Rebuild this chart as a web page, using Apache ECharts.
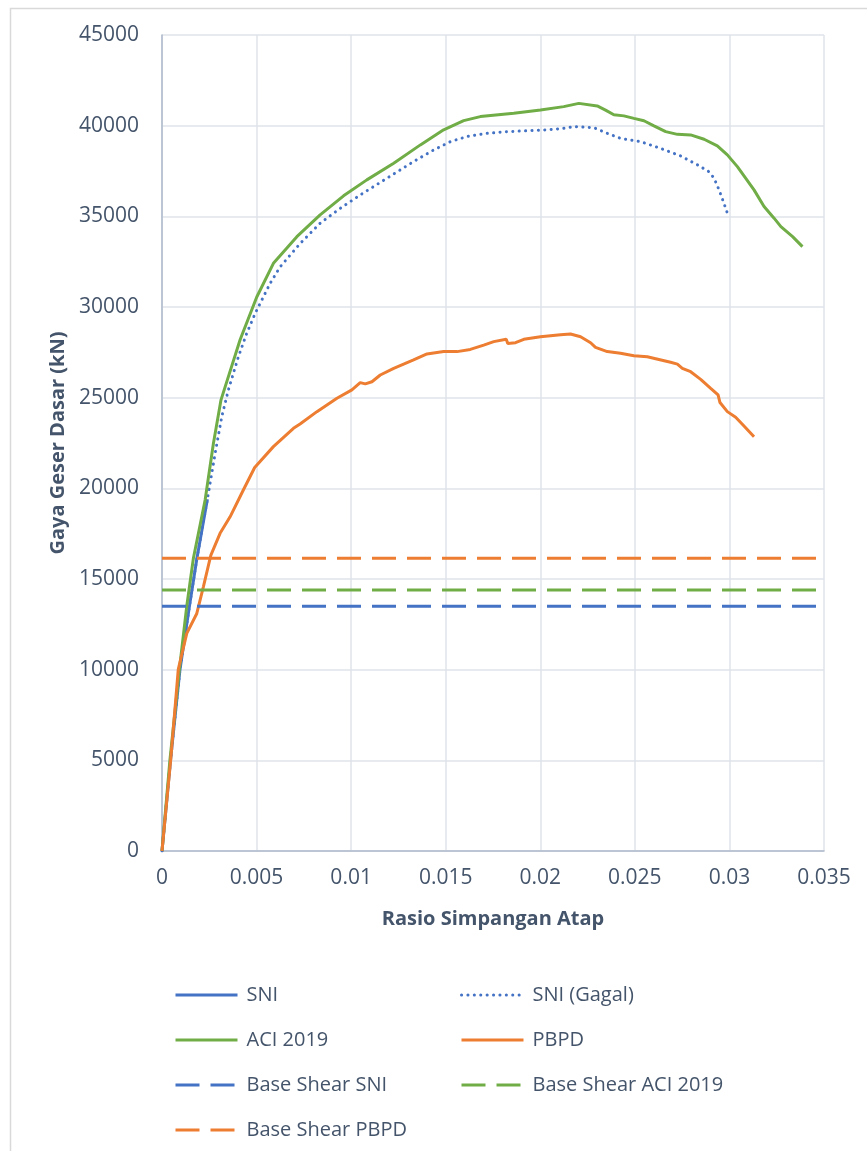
<!DOCTYPE html>
<html>
<head>
<meta charset="utf-8">
<script src="https://cdn.jsdelivr.net/npm/echarts@6/dist/echarts.min.js"></script>
<style>
html,body{margin:0;padding:0;background:#fff;}
#chart{width:867px;height:1151px;}
</style>
</head>
<body>
<div id="chart"></div>
<script>
// ---- data ----
const seriesNames = ['SNI', 'SNI (Gagal)', 'ACI 2019', 'PBPD', 'Base Shear SNI', 'Base Shear ACI 2019', 'Base Shear PBPD'];
const xTicks = { min: 0, max: 0.035, step: 0.005 };
const yTicks = { min: 0, max: 45000, step: 5000 };

const sniData = [[0,0],[0.00045,5000],[0.00095,10000],[0.00145,13500],[0.00184,16100],[0.0024,19400]];

const sniGagalData = [[0,0],[0.00045,5000],[0.00095,10000],[0.00145,13500],[0.00184,16100],[0.0024,19400],
  [0.00281,21930],[0.00316,23950],[0.00351,25430],[0.00404,27260],[0.00448,28550],[0.00495,29700],
  [0.00528,30390],[0.00572,31310],[0.00625,32220],[0.00731,33510],[0.00836,34620],[0.00942,35440],
  [0.01048,36180],[0.01189,37100],[0.0133,38020],[0.01436,38660],[0.01525,39120],[0.01613,39400],
  [0.01719,39580],[0.01825,39670],[0.0193,39720],[0.02036,39770],[0.0212,39850],[0.02177,39950],
  [0.02283,39890],[0.02354,39580],[0.02424,39300],[0.0253,39120],[0.02636,38750],[0.02742,38330],
  [0.02831,37840],[0.02892,37460],[0.02919,37100],[0.02945,36460],[0.02971,35720],[0.02995,34990]];

const aciData = [[0,0],[0.00042,5020],[0.00092,10020],[0.00131,13510],[0.00166,16140],[0.00228,19360],
  [0.00272,22490],[0.00312,24880],[0.00351,26160],[0.00413,28190],[0.00501,30550],[0.00589,32410],
  [0.00713,33880],[0.00836,35080],[0.0096,36130],[0.01083,37010],[0.01225,37930],[0.01366,38940],
  [0.01489,39770],[0.01595,40280],[0.01683,40500],[0.0186,40680],[0.02001,40860],[0.02124,41050],
  [0.02204,41230],[0.02301,41090],[0.02345,40860],[0.02389,40600],[0.02442,40540],[0.02495,40400],
  [0.02548,40270],[0.02601,39990],[0.02663,39670],[0.02725,39520],[0.02795,39490],[0.02866,39250],
  [0.02936,38890],[0.02989,38390],[0.03042,37740],[0.0313,36460],[0.03183,35540],[0.03236,34900],
  [0.03272,34430],[0.03334,33880],[0.03386,33330]];

const pbpdData = [[0,0],[0.00046,5020],[0.00086,10020],[0.00131,12000],[0.00184,13100],[0.00219,14580],
  [0.00258,16300],[0.00307,17520],[0.0036,18430],[0.0043,19910],[0.0049,21150],[0.00589,22300],
  [0.00695,23310],[0.0073,23550],[0.00819,24230],[0.00925,24970],[0.01004,25430],[0.01048,25830],
  [0.01075,25760],[0.0111,25880],[0.01154,26250],[0.01225,26620],[0.0133,27080],[0.01401,27410],
  [0.01489,27540],[0.0156,27540],[0.0163,27660],[0.01701,27900],[0.01754,28090],[0.0182,28220],
  [0.01828,27990],[0.01869,28030],[0.01913,28220],[0.02001,28360],[0.02107,28470],[0.0216,28510],
  [0.02213,28360],[0.02266,28030],[0.02292,27770],[0.02354,27540],[0.02424,27450],[0.02495,27310],
  [0.02566,27260],[0.0261,27150],[0.02619,27060],[0.02689,26950],[0.02725,26850],[0.02751,26620],
  [0.02795,26430],[0.02848,26010],[0.02901,25510],[0.0294,25150],[0.0295,24730],[0.02989,24230],
  [0.03033,23920],[0.03077,23440],[0.0313,22850]];

const baseShearSNI = 13500;
const baseShearACI = 14400;
const baseShearPBPD = 16150;

// ---- styling ----
const BLUE = '#4472C4', GREEN = '#70AD47', ORANGE = '#ED7D31';
const TXT = '#44546A';
const FONT = '"Open Sans", "Noto Sans", sans-serif';
const LW = 3;
const DASH = [24, 11];
const DOT = [0.1, 6.3];

function hLine(v) { return [[xTicks.min, v], [xTicks.max, v]]; }

function styleOf(type) {
  return type === 'dotted' ? DOT : (type === 'dashed' ? DASH : 'solid');
}

function lineSeries(name, data, color, type, z) {
  return {
    name: name, type: 'line', data: data, symbol: 'none', smooth: false,
    z: z, animation: false,
    lineStyle: { color: color, width: LW, type: styleOf(type),
      cap: type === 'dotted' ? 'round' : 'butt' },
    itemStyle: { color: color }
  };
}

function legendItem(name, color, type) {
  return { name: name,
    itemStyle: { opacity: 0, color: 'rgba(0,0,0,0)', borderWidth: 0 },
    lineStyle: { color: color, width: LW, type: styleOf(type), cap: type === 'dotted' ? 'round' : 'butt' } };
}

const chart = echarts.init(document.getElementById('chart'), null, { renderer: 'canvas' });

const legendCommon = {
  orient: 'vertical', itemWidth: 62, itemHeight: 20, itemGap: 25,
  textStyle: { color: TXT, fontSize: 20, fontFamily: FONT, lineHeight: 20, padding: [0, 0, 0, 4] },
  itemStyle: { opacity: 0 },
  selectedMode: false
};

chart.setOption({
  backgroundColor: '#fff',
  animation: false,
  graphic: [{
    type: 'rect', left: 8, top: 6, shape: { width: 900, height: 1200 },
    style: { fill: 'none', stroke: '#D9D9D9', lineWidth: 1.5 }, silent: true, z: -10
  }],
  grid: { left: 162, right: 43, top: 35, bottom: 300 },
  xAxis: {
    type: 'value', min: xTicks.min, max: xTicks.max, interval: xTicks.step,
    name: 'Rasio Simpangan Atap', nameLocation: 'middle', nameGap: 58,
    nameTextStyle: { color: TXT, fontSize: 20, fontWeight: 'bold', fontFamily: FONT },
    axisLine: { show: true, lineStyle: { color: '#ADB9CA', width: 1.5 } },
    axisTick: { show: false },
    axisLabel: { color: TXT, fontSize: 21, fontFamily: FONT, margin: 17,
      formatter: function (v) { return String(parseFloat(v.toFixed(4))); } },
    splitLine: { show: true, lineStyle: { color: '#DFE3EA', width: 1.5 } }
  },
  yAxis: {
    type: 'value', min: yTicks.min, max: yTicks.max, interval: yTicks.step,
    name: 'Gaya Geser Dasar (kN)', nameLocation: 'middle', nameGap: 93,
    nameTextStyle: { color: TXT, fontSize: 20, fontWeight: 'bold', fontFamily: FONT },
    axisLine: { show: true, lineStyle: { color: '#ADB9CA', width: 1.5 } },
    axisTick: { show: false },
    axisLabel: { color: TXT, fontSize: 21, fontFamily: FONT, margin: 23,
      formatter: function (v) { return String(v); } },
    splitLine: { show: true, lineStyle: { color: '#DFE3EA', width: 1.5 } }
  },
  legend: [
    Object.assign({}, legendCommon, { left: 169, top: 980,
      data: [legendItem(seriesNames[0], BLUE, 'solid'), legendItem(seriesNames[2], GREEN, 'solid'),
             legendItem(seriesNames[4], BLUE, 'dashed'), legendItem(seriesNames[6], ORANGE, 'dashed')] }),
    Object.assign({}, legendCommon, { left: 455, top: 980,
      data: [legendItem(seriesNames[1], BLUE, 'dotted'), legendItem(seriesNames[3], ORANGE, 'solid'),
             legendItem(seriesNames[5], GREEN, 'dashed')] })
  ],
  series: [
    lineSeries(seriesNames[1], sniGagalData, BLUE, 'dotted', 2),
    lineSeries(seriesNames[0], sniData, BLUE, 'solid', 3),
    lineSeries(seriesNames[2], aciData, GREEN, 'solid', 4),
    lineSeries(seriesNames[3], pbpdData, ORANGE, 'solid', 5),
    lineSeries(seriesNames[4], hLine(baseShearSNI), BLUE, 'dashed', 6),
    lineSeries(seriesNames[5], hLine(baseShearACI), GREEN, 'dashed', 6),
    lineSeries(seriesNames[6], hLine(baseShearPBPD), ORANGE, 'dashed', 6)
  ]
});
</script>
</body>
</html>
